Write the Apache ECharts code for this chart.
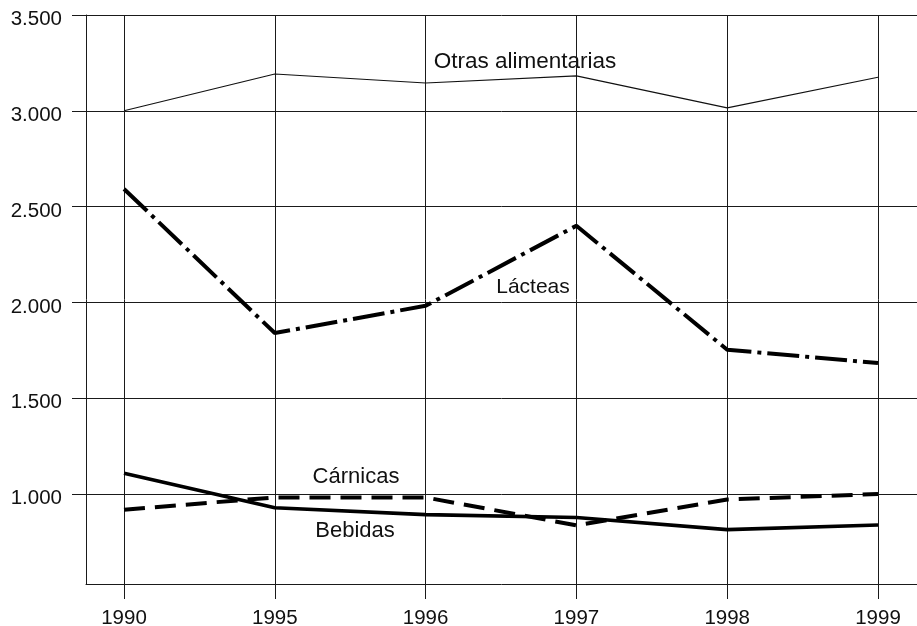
<!DOCTYPE html>
<html>
<head>
<meta charset="utf-8">
<script src="https://cdn.jsdelivr.net/npm/echarts@6/dist/echarts.min.js"></script>
<style>
  html, body { margin: 0; padding: 0; background: #fff; }
  #chart { width: 917px; height: 626px; }
</style>
</head>
<body>
<div id="chart"></div>
<script>
var years = ['1990', '1995', '1996', '1997', '1998', '1999'];
var otras = [3000, 3192, 3145, 3182, 3015, 3175];
var lacteas = [2592, 1840, 1982, 2400, 1753, 1683];
var carnicas = [918, 982, 982, 836, 971, 1000];
var bebidas = [1108, 928, 892, 877, 814, 838];
var yTicks = [1000, 1500, 2000, 2500, 3000, 3500];

var lineColor = '#1a1a1a';
var font = "'Liberation Sans', Arial, sans-serif";

var chart = echarts.init(document.getElementById('chart'));

// series name placed next to its line
function label(text, x, y, size) {
    return {
        type: 'text',
        x: x, y: y,
        style: {
            text: text,
            fill: '#111',
            font: size + 'px ' + font,
            textAlign: 'center',
            textVerticalAlign: 'middle'
        }
    };
}

var option = {
    backgroundColor: '#fff',
    animation: false,
    grid: [
        { left: 86, right: 0, top: 15, bottom: 42, outerBoundsMode: 'none' },
        { left: 124, right: 39, top: 15, bottom: 42, outerBoundsMode: 'none' }
    ],
    xAxis: [{
        gridIndex: 0,
        type: 'value',
        min: 0, max: 1,
        axisLine: { show: true, lineStyle: { color: lineColor, width: 1 } },
        axisTick: { show: false },
        axisLabel: { show: false },
        splitLine: { show: false }
    }, {
        gridIndex: 1,
        type: 'category',
        data: years,
        boundaryGap: false,
        axisLine: { show: false },
        axisTick: { show: true, length: 15, lineStyle: { color: lineColor, width: 1 } },
        axisLabel: {
            margin: 24,
            color: '#111',
            fontSize: 20.5,
            fontFamily: font
        },
        splitLine: { show: true, lineStyle: { color: lineColor, width: 1 } }
    }],
    yAxis: [{
        gridIndex: 0,
        type: 'value',
        min: 530, max: 3500,
        axisLine: { show: true, lineStyle: { color: lineColor, width: 1 } },
        axisTick: { show: true, length: 14, customValues: yTicks, lineStyle: { color: lineColor, width: 1 } },
        axisLabel: {
            customValues: yTicks,
            margin: 24,
            color: '#111',
            fontSize: 20.5,
            fontFamily: font,
            verticalAlign: 'top',
            lineHeight: 9,
            formatter: function(v) { return (v / 1000).toFixed(3); }
        },
        splitLine: { show: true, lineStyle: { color: lineColor, width: 1 } }
    }, {
        gridIndex: 1,
        type: 'value',
        min: 530, max: 3500,
        show: false,
        splitLine: { show: false }
    }],
    series: [{
        name: 'Otras alimentarias',
        type: 'line',
        xAxisIndex: 1, yAxisIndex: 1,
        data: otras,
        showSymbol: false,
        lineStyle: { color: '#111', width: 1.2 }
    }, {
        name: 'Lácteas',
        type: 'line',
        xAxisIndex: 1, yAxisIndex: 1,
        data: lacteas,
        showSymbol: false,
        lineStyle: { color: '#000', width: 4, type: [32, 6, 4, 6], cap: 'butt' }
    }, {
        name: 'Cárnicas',
        type: 'line',
        xAxisIndex: 1, yAxisIndex: 1,
        data: carnicas,
        showSymbol: false,
        lineStyle: { color: '#000', width: 4, type: [21, 10], cap: 'butt' }
    }, {
        name: 'Bebidas',
        type: 'line',
        xAxisIndex: 1, yAxisIndex: 1,
        data: bebidas,
        showSymbol: false,
        lineStyle: { color: '#000', width: 3.6 }
    }],
    graphic: [
        label('Otras alimentarias', 525, 62, 22.5),
        label('Lácteas', 533, 287, 21),
        label('Cárnicas', 356, 477, 22),
        label('Bebidas', 355, 531, 22)
    ]
};

chart.setOption(option);
</script>
</body>
</html>
